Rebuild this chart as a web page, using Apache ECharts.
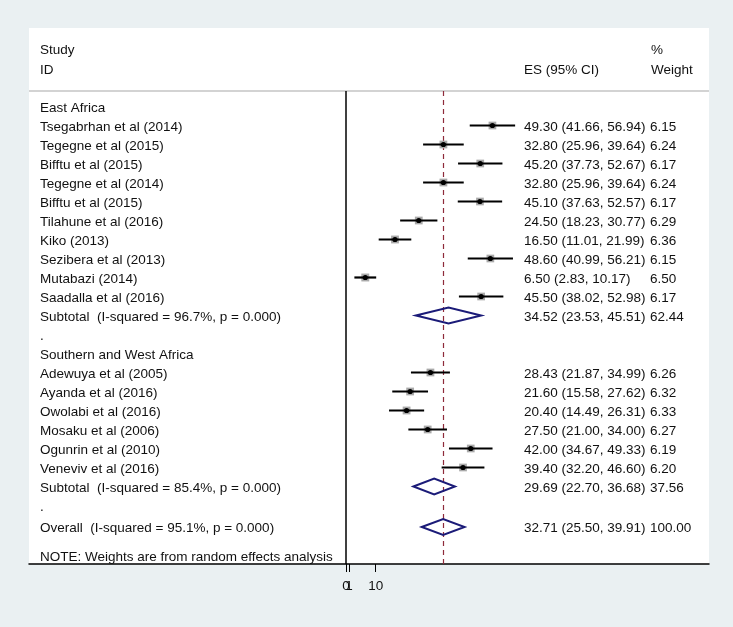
<!DOCTYPE html>
<html>
<head>
<meta charset="utf-8">
<script src="https://cdn.jsdelivr.net/npm/echarts@6/dist/echarts.min.js"></script>
<style>html,body{margin:0;padding:0;background:#eaf0f2;}#c{width:733px;height:627px;}</style>
</head>
<body>
<div id="c"></div>
<script>
// ---- data ----
const groupNames = ['East Africa', 'Southern and West Africa'];
const eaStudies = ['Tsegabrhan et al (2014)', 'Tegegne et al (2015)', 'Bifftu et al (2015)', 'Tegegne et al (2014)', 'Bifftu et al (2015)', 'Tilahune et al (2016)', 'Kiko (2013)', 'Sezibera et al (2013)', 'Mutabazi (2014)', 'Saadalla et al (2016)'];
const eaES = [49.30, 32.80, 45.20, 32.80, 45.10, 24.50, 16.50, 48.60, 6.50, 45.50];
const eaLo = [41.66, 25.96, 37.73, 25.96, 37.63, 18.23, 11.01, 40.99, 2.83, 38.02];
const eaHi = [56.94, 39.64, 52.67, 39.64, 52.57, 30.77, 21.99, 56.21, 10.17, 52.98];
const eaW = [6.15, 6.24, 6.17, 6.24, 6.17, 6.29, 6.36, 6.15, 6.50, 6.17];
const swStudies = ['Adewuya et al (2005)', 'Ayanda et al (2016)', 'Owolabi et al (2016)', 'Mosaku et al (2006)', 'Ogunrin et al (2010)', 'Veneviv et al (2016)'];
const swES = [28.43, 21.60, 20.40, 27.50, 42.00, 39.40];
const swLo = [21.87, 15.58, 14.49, 21.00, 34.67, 32.20];
const swHi = [34.99, 27.62, 26.31, 34.00, 49.33, 46.60];
const swW = [6.26, 6.32, 6.33, 6.27, 6.19, 6.20];
const subtotalLabels = ['Subtotal  (I-squared = 96.7%, p = 0.000)', 'Subtotal  (I-squared = 85.4%, p = 0.000)'];
const subES = [34.52, 29.69];
const subLo = [23.53, 22.70];
const subHi = [45.51, 36.68];
const subW = [62.44, 37.56];
const overallLabel = 'Overall  (I-squared = 95.1%, p = 0.000)';
const overallES = 32.71, overallLo = 25.50, overallHi = 39.91, overallW = 100.00;
const noteText = 'NOTE: Weights are from random effects analysis';
const tickValues = [0, 1, 10];
const tickLabels = ['0', '1', '10'];

// ---- build rows ----
const f2 = v => v.toFixed(2);
const rows = [];      // text rows
const studyPts = [];  // [row, es, lo, hi, w]
const diamonds = [];  // [row, es, lo, hi]
let r = 0;
const groups = [
  {names: eaStudies, es: eaES, lo: eaLo, hi: eaHi, w: eaW},
  {names: swStudies, es: swES, lo: swLo, hi: swHi, w: swW}
];
groups.forEach((g, gi) => {
  rows.push({row: r++, label: groupNames[gi]});
  g.names.forEach((n, i) => {
    rows.push({row: r, label: n, es: f2(g.es[i]) + ' (' + f2(g.lo[i]) + ', ' + f2(g.hi[i]) + ')', w: f2(g.w[i])});
    studyPts.push([r, g.es[i], g.lo[i], g.hi[i], g.w[i]]);
    r++;
  });
  rows.push({row: r, label: subtotalLabels[gi], es: f2(subES[gi]) + ' (' + f2(subLo[gi]) + ', ' + f2(subHi[gi]) + ')', w: f2(subW[gi])});
  diamonds.push([r, subES[gi], subLo[gi], subHi[gi]]);
  r++;
  rows.push({row: r++, label: '.'});
});
const overallRow = r + 0.13;
rows.push({row: overallRow, label: overallLabel, es: f2(overallES) + ' (' + f2(overallLo) + ', ' + f2(overallHi) + ')', w: f2(overallW)});
diamonds.push([overallRow, overallES, overallLo, overallHi]);
rows.push({row: overallRow + 1.5, label: noteText});

// ---- layout constants ----
const FONT = 'Arial, "Liberation Sans", Helvetica, sans-serif';
const FS = 13.5;
const TXT = '#111';
const panel = {x: 29, y: 28, r: 709, b: 564};
const headerY = 91;
const yMin = -0.816, yMax = 24.08;
const DY = 1.5; // text baseline nudge

const chart = echarts.init(document.getElementById('c'));
chart.setOption({
  backgroundColor: '#eaf0f2',
  animation: false,
  grid: {left: panel.x, right: 733 - panel.r, top: headerY, bottom: 627 - panel.b},
  xAxis: {
    type: 'value', min: -106.7, max: 122.2,
    splitLine: {show: false},
    axisLine: {show: true, onZero: false, lineStyle: {color: '#000', width: 1.5}},
    axisTick: {show: true, customValues: tickValues, length: 8, lineStyle: {color: '#000', width: 1}},
    axisLabel: {show: false}
  },
  yAxis: {type: 'value', inverse: true, min: yMin, max: yMax, show: false},
  graphic: [
    {type: 'rect', z: -10, silent: true, shape: {x: panel.x, y: panel.y, width: panel.r - panel.x, height: panel.b - panel.y}, style: {fill: '#fff'}},
    {type: 'line', shape: {x1: panel.x, y1: headerY, x2: panel.r, y2: headerY}, style: {stroke: '#c4c4c4', lineWidth: 1.5}},
    {type: 'text', x: 40, y: 49 + DY, style: {text: 'Study', fill: TXT, font: FS + 'px ' + FONT, verticalAlign: 'middle'}},
    {type: 'text', x: 40, y: 69 + DY, style: {text: 'ID', fill: TXT, font: FS + 'px ' + FONT, verticalAlign: 'middle'}},
    {type: 'text', x: 599, y: 69 + DY, style: {text: 'ES (95% CI)', fill: TXT, font: FS + 'px ' + FONT, align: 'right', verticalAlign: 'middle'}},
    {type: 'text', x: 651, y: 49 + DY, style: {text: '%', fill: TXT, font: FS + 'px ' + FONT, verticalAlign: 'middle'}},
    {type: 'text', x: 651, y: 69 + DY, style: {text: 'Weight', fill: TXT, font: FS + 'px ' + FONT, verticalAlign: 'middle'}}
  ],
  series: [
    {
      type: 'custom', name: 'studies', data: studyPts, encode: {x: [1, 2, 3], y: 0}, z: 5,
      renderItem: (params, api) => {
        const row = api.value(0), es = api.value(1), lo = api.value(2), hi = api.value(3), w = api.value(4);
        const p = api.coord([es, row]), a = api.coord([lo, row]), b = api.coord([hi, row]);
        const s = 3.1 * Math.sqrt(w);
        return {type: 'group', children: [
          {type: 'rect', shape: {x: p[0] - s / 2, y: p[1] - s / 2, width: s, height: s}, style: {fill: '#a9a9a9'}},
          {type: 'line', shape: {x1: a[0], y1: a[1], x2: b[0], y2: b[1]}, style: {stroke: '#000', lineWidth: 2.2}},
          {type: 'circle', shape: {cx: p[0], cy: p[1], r: 2.6}, style: {fill: '#000'}}
        ]};
      },
      markLine: {
        silent: true, symbol: 'none', label: {show: false},
        data: [
          {xAxis: 0, lineStyle: {color: '#000', width: 1.5, type: 'solid'}},
          {xAxis: overallES, lineStyle: {color: '#8e2a3a', width: 1.2, type: [5, 4]}}
        ]
      }
    },
    {
      type: 'custom', name: 'diamonds', data: diamonds, encode: {x: [1, 2, 3], y: 0}, z: 6,
      renderItem: (params, api) => {
        const row = api.value(0), es = api.value(1), lo = api.value(2), hi = api.value(3);
        const c = api.coord([es, row]), a = api.coord([lo, row]), b = api.coord([hi, row]);
        const h = 8;
        return {type: 'polygon', shape: {points: [[a[0], a[1]], [c[0], c[1] - h], [b[0], b[1]], [c[0], c[1] + h]]},
          style: {fill: 'none', stroke: '#1b1b78', lineWidth: 2}};
      }
    },
    {
      type: 'custom', name: 'text', data: rows.map(d => [0, d.row]), encode: {x: 0, y: 1}, z: 7, silent: true,
      renderItem: (params, api) => {
        const d = rows[params.dataIndex];
        const y = api.coord([0, d.row])[1] + DY;
        const ch = [{type: 'text', x: 40, y: y, style: {text: d.label, fill: TXT, font: FS + 'px ' + FONT, verticalAlign: 'middle'}}];
        if (d.es) ch.push({type: 'text', x: 524, y: y, style: {text: d.es, fill: TXT, font: FS + 'px ' + FONT, verticalAlign: 'middle'}});
        if (d.w) ch.push({type: 'text', x: 650, y: y, style: {text: d.w, fill: TXT, font: FS + 'px ' + FONT, verticalAlign: 'middle'}});
        return {type: 'group', children: ch};
      }
    },
    {
      type: 'custom', name: 'tickLabels', data: tickValues.map(v => [v, yMax]), encode: {x: 0, y: 1}, z: 7, silent: true, clip: false,
      renderItem: (params, api) => {
        const p = api.coord([api.value(0), api.value(1)]);
        return {type: 'text', x: p[0], y: p[1] + 21 + DY, style: {text: tickLabels[params.dataIndex], fill: TXT, font: FS + 'px ' + FONT, align: 'center', verticalAlign: 'middle'}};
      }
    }
  ]
});
</script>
</body>
</html>
